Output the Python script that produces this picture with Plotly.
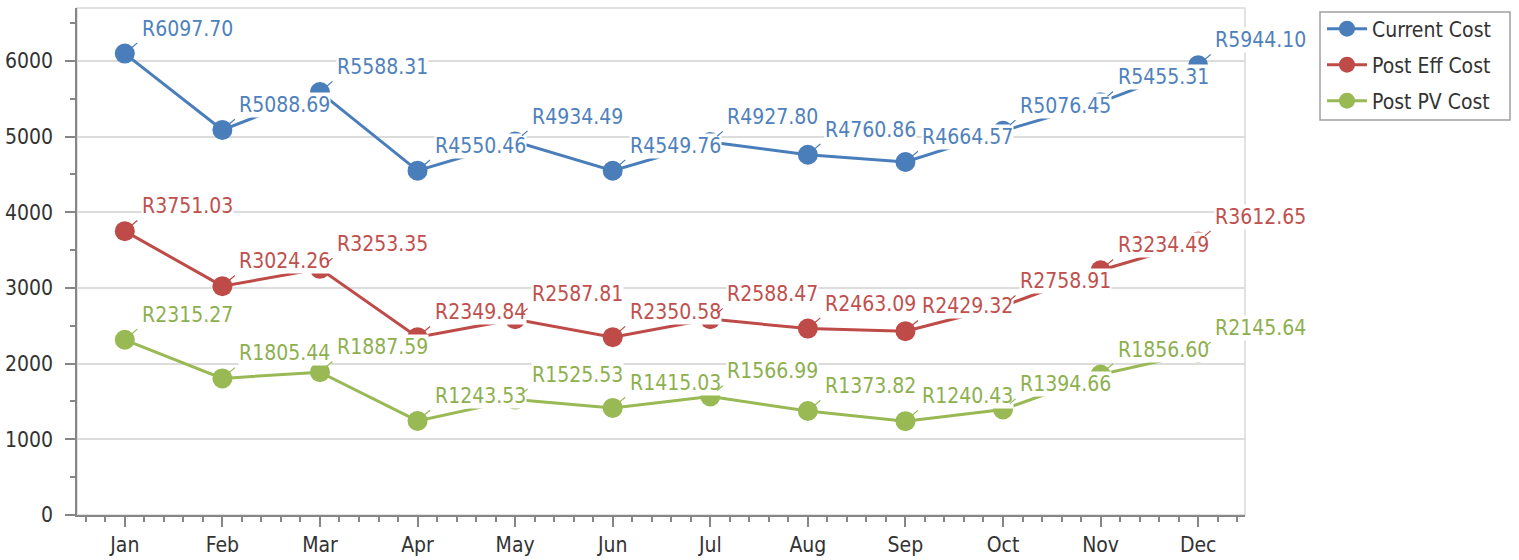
import plotly.graph_objects as go

months = ["Jan", "Feb", "Mar", "Apr", "May", "Jun", "Jul", "Aug", "Sep", "Oct", "Nov", "Dec"]
current_cost = [6097.70, 5088.69, 5588.31, 4550.46, 4934.49, 4549.76, 4927.80, 4760.86, 4664.57, 5076.45, 5455.31, 5944.10]
post_eff_cost = [3751.03, 3024.26, 3253.35, 2349.84, 2587.81, 2350.58, 2588.47, 2463.09, 2429.32, 2758.91, 3234.49, 3612.65]
post_pv_cost = [2315.27, 1805.44, 1887.59, 1243.53, 1525.53, 1415.03, 1566.99, 1373.82, 1240.43, 1394.66, 1856.60, 2145.64]
y_ticks = [0, 1000, 2000, 3000, 4000, 5000, 6000]

series = [
    ("Current Cost", current_cost, "#4A7EBB", "#4F81BD"),
    ("Post Eff Cost", post_eff_cost, "#BE4B48", "#C0504D"),
    ("Post PV Cost", post_pv_cost, "#98B954", "#8DB04E"),
]

FONT = "DejaVu Sans Condensed, Liberation Sans, sans-serif"
x_idx = list(range(len(months)))

FIG_W, FIG_H = 1519, 560
# plot area in page pixels
L, R, T, B = 77, 1245, 8, 515
W, H = R - L, B - T


def px_x(p):
    return (p - L) / W


def px_y(p):
    return (B - p) / H


legend_names = ["legend", "legend2", "legend3"]
legend_rows = [29, 65, 101]

fig = go.Figure()
annotations = []
for (name, vals, col, tcol), lg in zip(series, legend_names):
    fig.add_trace(go.Scatter(
        x=x_idx, y=vals, name=name, mode="lines+markers",
        line=dict(color=col, width=3),
        marker=dict(color=col, size=20, line=dict(color=col, width=0)),
        legend=lg,
    ))
for name, vals, col, tcol in series:
    for xi, v in zip(x_idx, vals):
        annotations.append(dict(
            x=xi, y=v, xref="x", yref="y", text="", showarrow=True,
            ax=14, ay=-12, arrowhead=0, arrowwidth=1.2, arrowcolor=col, standoff=9,
        ))
        annotations.append(dict(
            x=xi, y=v, xref="x", yref="y", text="R%.2f" % v, showarrow=False,
            xanchor="left", yanchor="bottom", xshift=16, yshift=12,
            bgcolor="white", borderpad=0,
            font=dict(family=FONT, size=21, color=tcol),
        ))

shapes = [
    dict(type="rect", xref="paper", yref="paper", x0=0, y0=0, x1=1, y1=1,
         line=dict(color="#D9D9D9", width=1.5), layer="below"),
    dict(type="rect", xref="paper", yref="paper",
         x0=px_x(1320), x1=px_x(1510), y0=px_y(120), y1=px_y(12),
         line=dict(color="#A0A0A0", width=1.5), fillcolor="rgba(0,0,0,0)"),
]

layout_legends = {}
for lg, row in zip(legend_names, legend_rows):
    layout_legends[lg] = dict(
        x=px_x(1322), y=px_y(row), xanchor="left", yanchor="middle",
        borderwidth=0, bgcolor="rgba(0,0,0,0)",
        font=dict(family=FONT, size=21, color="#333333"),
        itemwidth=40,
    )

fig.update_layout(
    width=FIG_W, height=FIG_H,
    margin=dict(l=L, r=FIG_W - R, t=T, b=FIG_H - B, autoexpand=False),
    paper_bgcolor="white", plot_bgcolor="white",
    font=dict(family=FONT, size=20, color="#333333"),
    showlegend=True,
    annotations=annotations,
    shapes=shapes,
    xaxis=dict(
        range=[-0.49, 11.48], tickmode="array", tickvals=x_idx, ticktext=months,
        showgrid=False, zeroline=False, showline=True, linecolor="#868686", linewidth=1.5,
        ticks="outside", ticklen=10, tickcolor="#868686", tickwidth=1.5,
        tickfont=dict(family=FONT, size=21, color="#333333"),
        automargin=False,
        minor=dict(ticks="outside", ticklen=5, dtick=0.2, tick0=0, tickcolor="#868686", showgrid=False),
    ),
    yaxis=dict(
        range=[0, 6700], tickmode="array", tickvals=y_ticks,
        showgrid=True, gridcolor="#DCDCDC", gridwidth=1.5, zeroline=False,
        showline=True, linecolor="#868686", linewidth=1.5,
        ticks="outside", ticklen=10, tickcolor="#868686", tickwidth=1.5,
        tickfont=dict(family=FONT, size=21, color="#333333"),
        ticklabelstandoff=8, automargin=False,
        minor=dict(ticks="outside", ticklen=5, dtick=500, tick0=0, tickcolor="#868686", showgrid=False),
    ),
    **layout_legends,
)

fig.write_html("out.html", config={"displayModeBar": False},
               post_script="document.body.style.margin='0';document.body.style.overflow='hidden';")
